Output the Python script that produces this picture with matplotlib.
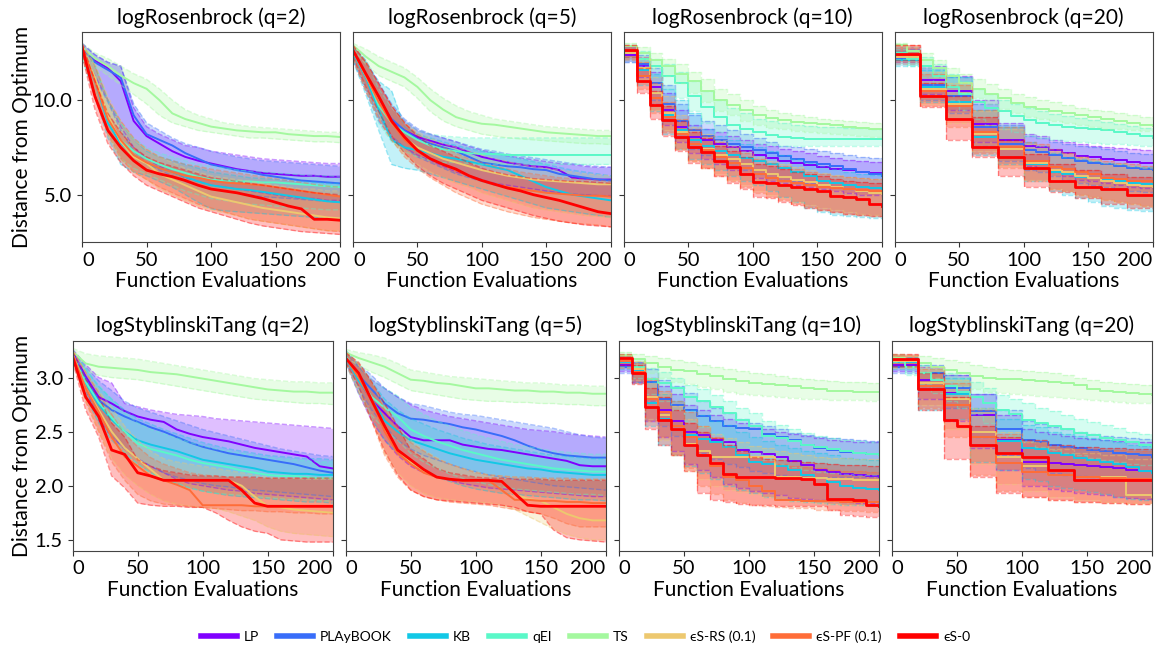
import numpy as np
import matplotlib.pyplot as plt
from matplotlib.gridspec import GridSpec
from matplotlib.lines import Line2D

plt.rcParams['font.family'] = ['Lato', 'DejaVu Sans']

evals = list(range(0, 201, 10))
methods = ['LP', 'PLAyBOOK', 'KB', 'qEI', 'TS', 'ϵS-RS (0.1)', 'ϵS-PF (0.1)', 'ϵS-0']

ros_q2 = {
    'LP': [[12.8, 12.1, 11.7, 11.0, 8.9, 8.1, 7.7, 7.3, 7.0, 6.8, 6.65, 6.5, 6.35, 6.25, 6.15, 6.1, 6.05, 6.0, 6.0, 5.95, 5.95],
           [12.5, 11.3, 10.0, 8.6, 7.5, 6.9, 6.5, 6.2, 5.9, 5.7, 5.5, 5.4, 5.3, 5.2, 5.1, 5.0, 4.9, 4.8, 4.8, 4.7, 4.7],
           [13.0, 12.4, 12.0, 11.8, 9.6, 8.6, 8.2, 7.9, 7.6, 7.5, 7.3, 7.2, 7.1, 7.0, 6.9, 6.85, 6.8, 6.75, 6.7, 6.65, 6.65]],
    'PLAyBOOK': [[12.8, 12.0, 11.6, 11.2, 9.2, 8.2, 7.9, 7.6, 7.2, 6.9, 6.6, 6.45, 6.3, 6.2, 6.05, 5.95, 5.85, 5.75, 5.7, 5.65, 5.6],
                 [12.4, 11.2, 9.9, 8.4, 7.3, 6.7, 6.3, 6.0, 5.7, 5.5, 5.3, 5.2, 5.1, 5.0, 4.9, 4.85, 4.8, 4.75, 4.7, 4.65, 4.6],
                 [13.0, 12.4, 12.0, 11.8, 9.8, 8.8, 8.4, 8.0, 7.7, 7.5, 7.3, 7.15, 7.0, 6.9, 6.8, 6.75, 6.7, 6.65, 6.6, 6.55, 6.5]],
    'KB': [[12.6, 11.0, 8.8, 7.7, 7.1, 6.65, 6.4, 6.2, 5.95, 5.7, 5.5, 5.4, 5.3, 5.25, 5.15, 5.05, 4.95, 4.85, 4.75, 4.65, 4.6],
           [12.2, 10.2, 8.0, 6.6, 6.2, 6.0, 5.7, 5.4, 5.0, 4.6, 4.25, 4.15, 4.1, 4.05, 4.0, 3.95, 3.9, 3.85, 3.8, 3.8, 3.75],
           [12.9, 11.8, 10.0, 8.8, 7.9, 7.3, 7.0, 6.8, 6.6, 6.4, 6.2, 6.1, 6.0, 5.9, 5.85, 5.8, 5.75, 5.7, 5.65, 5.6, 5.6]],
    'qEI': [[12.7, 11.2, 9.0, 7.9, 7.3, 6.9, 6.6, 6.35, 6.15, 5.95, 5.8, 5.75, 5.7, 5.7, 5.65, 5.65, 5.6, 5.55, 5.5, 5.45, 5.4],
            [12.3, 10.4, 8.2, 6.9, 6.4, 6.1, 5.8, 5.5, 5.2, 5.0, 4.8, 4.7, 4.6, 4.5, 4.45, 4.4, 4.35, 4.3, 4.25, 4.2, 4.2],
            [12.9, 11.9, 10.0, 8.8, 8.0, 7.5, 7.2, 7.0, 6.8, 6.6, 6.5, 6.4, 6.3, 6.25, 6.2, 6.15, 6.1, 6.05, 6.0, 6.0, 5.95]],
    'TS': [[12.8, 12.2, 11.8, 11.3, 10.9, 10.6, 10.0, 9.3, 9.0, 8.8, 8.6, 8.5, 8.4, 8.35, 8.3, 8.3, 8.2, 8.15, 8.1, 8.1, 8.05],
           [12.6, 11.8, 11.3, 10.8, 10.3, 9.8, 9.2, 8.8, 8.6, 8.4, 8.3, 8.2, 8.1, 8.0, 8.0, 7.95, 7.9, 7.85, 7.8, 7.8, 7.75],
           [13.0, 12.5, 12.2, 11.8, 11.4, 11.1, 10.6, 10.0, 9.5, 9.2, 9.0, 8.8, 8.7, 8.6, 8.55, 8.5, 8.45, 8.4, 8.35, 8.3, 8.3]],
    'ϵS-RS (0.1)': [[12.7, 11.2, 9.2, 7.8, 7.0, 6.65, 6.1, 5.8, 5.5, 5.2, 4.9, 4.75, 4.6, 4.45, 4.3, 4.2, 4.1, 4.0, 3.9, 3.8, 3.75],
                    [12.3, 10.4, 8.3, 6.9, 6.2, 5.8, 5.3, 5.0, 4.7, 4.4, 4.2, 4.05, 3.9, 3.75, 3.6, 3.5, 3.4, 3.3, 3.2, 3.1, 3.1],
                    [12.9, 11.9, 10.2, 8.9, 7.9, 7.4, 7.0, 6.7, 6.4, 6.2, 6.0, 5.9, 5.8, 5.7, 5.6, 5.5, 5.4, 5.3, 5.3, 5.2, 5.2]],
    'ϵS-PF (0.1)': [[12.8, 11.0, 9.0, 7.9, 7.1, 6.7, 6.4, 6.2, 6.0, 5.9, 5.75, 5.65, 5.6, 5.55, 5.5, 5.4, 5.3, 5.2, 5.1, 5.0, 4.9],
                    [12.4, 10.1, 8.2, 6.9, 6.2, 5.8, 5.4, 5.1, 4.8, 4.5, 4.3, 4.1, 3.9, 3.7, 3.6, 3.5, 3.4, 3.3, 3.2, 3.1, 3.05],
                    [13.0, 11.8, 10.0, 8.9, 8.0, 7.4, 7.0, 6.8, 6.6, 6.5, 6.35, 6.25, 6.15, 6.05, 5.95, 5.85, 5.75, 5.65, 5.55, 5.45, 5.4]],
    'ϵS-0': [[12.8, 10.2, 8.4, 7.5, 6.8, 6.3, 6.1, 5.95, 5.75, 5.5, 5.3, 5.2, 5.1, 4.95, 4.8, 4.6, 4.4, 4.25, 3.7, 3.7, 3.65],
             [12.4, 9.5, 7.7, 6.7, 6.0, 5.5, 5.2, 4.9, 4.6, 4.3, 4.1, 3.9, 3.7, 3.5, 3.35, 3.25, 3.15, 3.05, 3.0, 2.95, 2.9],
             [13.0, 11.0, 9.3, 8.3, 7.5, 7.0, 6.7, 6.5, 6.3, 6.1, 5.9, 5.8, 5.7, 5.6, 5.5, 5.4, 5.3, 5.2, 5.1, 5.05, 5.0]],
}

ros_q5 = {
    'LP': [[12.6, 11.3, 9.8, 8.9, 8.4, 8.05, 7.85, 7.65, 7.5, 7.25, 7.0, 6.85, 6.7, 6.6, 6.5, 6.45, 6.3, 5.9, 5.85, 5.8, 5.8],
           [12.2, 10.5, 8.9, 8.0, 7.5, 7.1, 6.8, 6.5, 6.2, 6.0, 5.8, 5.6, 5.5, 5.4, 5.3, 5.2, 5.1, 5.0, 5.0, 4.95, 4.95],
           [12.9, 12.0, 10.8, 9.6, 8.9, 8.4, 8.2, 8.0, 7.8, 7.55, 7.35, 7.2, 7.05, 6.95, 6.85, 6.75, 6.65, 6.6, 6.5, 6.45, 6.45]],
    'PLAyBOOK': [[12.5, 11.4, 10.0, 9.0, 8.4, 7.95, 7.7, 7.5, 7.3, 7.0, 6.7, 6.6, 6.5, 6.45, 6.35, 6.3, 6.1, 6.0, 5.9, 5.8, 5.75],
                 [12.1, 10.6, 9.1, 8.1, 7.5, 7.0, 6.7, 6.4, 6.1, 5.9, 5.7, 5.5, 5.4, 5.3, 5.2, 5.15, 5.1, 5.05, 5.0, 4.95, 4.9],
                 [12.9, 12.1, 10.9, 9.8, 9.0, 8.5, 8.2, 8.0, 7.8, 7.6, 7.4, 7.3, 7.15, 7.05, 6.95, 6.85, 6.75, 6.65, 6.55, 6.5, 6.45]],
    'KB': [[12.5, 11.2, 9.5, 7.9, 7.5, 7.35, 7.2, 7.0, 6.9, 6.75, 6.6, 6.45, 6.3, 6.0, 5.7, 5.4, 5.2, 5.0, 4.9, 4.8, 4.7],
           [12.1, 10.3, 8.4, 6.6, 6.4, 6.3, 6.1, 5.9, 5.7, 5.5, 5.3, 5.1, 4.9, 4.7, 4.5, 4.3, 4.2, 4.1, 4.0, 3.9, 3.8],
           [12.8, 12.0, 11.0, 10.5, 8.6, 8.2, 8.0, 7.8, 7.6, 7.45, 7.3, 7.2, 7.05, 6.9, 6.75, 6.6, 6.45, 6.3, 6.2, 6.1, 6.0]],
    'qEI': [[12.6, 11.4, 9.7, 8.8, 8.3, 7.9, 7.6, 7.4, 7.3, 7.2, 7.15, 7.15, 7.1, 7.1, 7.1, 7.1, 7.1, 7.1, 7.1, 7.1, 7.1],
            [12.2, 10.6, 8.8, 7.8, 7.3, 7.0, 6.8, 6.7, 6.7, 6.65, 6.6, 6.6, 6.6, 6.6, 6.6, 6.6, 6.6, 6.6, 6.6, 6.6, 6.6],
            [12.9, 12.1, 10.6, 9.6, 8.9, 8.4, 8.2, 8.1, 8.05, 8.0, 8.0, 8.0, 8.0, 8.0, 8.0, 8.0, 8.0, 8.0, 8.0, 8.0, 8.0]],
    'TS': [[12.9, 12.3, 11.8, 11.5, 11.2, 10.7, 10.0, 9.5, 9.1, 8.9, 8.75, 8.7, 8.6, 8.5, 8.4, 8.3, 8.25, 8.2, 8.15, 8.1, 8.1],
           [12.7, 11.9, 11.3, 11.0, 10.7, 10.1, 9.4, 8.9, 8.6, 8.4, 8.2, 8.1, 8.0, 7.95, 7.9, 7.85, 7.8, 7.75, 7.7, 7.7, 7.65],
           [13.0, 12.7, 12.3, 12.0, 11.7, 11.2, 10.6, 10.1, 9.7, 9.4, 9.2, 9.0, 8.9, 8.8, 8.7, 8.6, 8.55, 8.5, 8.45, 8.4, 8.4]],
    'ϵS-RS (0.1)': [[12.6, 11.3, 9.9, 8.8, 8.0, 7.5, 7.2, 6.9, 6.7, 6.5, 6.3, 6.15, 6.0, 5.9, 5.8, 5.75, 5.7, 5.65, 5.6, 5.55, 5.55],
                    [12.2, 10.5, 9.0, 7.9, 7.1, 6.6, 6.2, 5.9, 5.6, 5.4, 5.1, 4.9, 4.7, 4.5, 4.3, 4.2, 4.1, 4.0, 3.9, 3.85, 3.8],
                    [12.9, 12.0, 10.8, 9.6, 8.8, 8.3, 8.0, 7.7, 7.5, 7.3, 7.1, 6.9, 6.75, 6.6, 6.5, 6.4, 6.3, 6.2, 6.1, 6.05, 6.0]],
    'ϵS-PF (0.1)': [[12.6, 11.3, 9.9, 8.8, 7.9, 7.3, 6.9, 6.6, 6.3, 6.0, 5.75, 5.55, 5.4, 5.3, 5.2, 5.1, 5.05, 5.0, 4.95, 4.95, 4.9],
                    [12.2, 10.5, 9.0, 7.9, 7.0, 6.4, 5.9, 5.5, 5.1, 4.8, 4.5, 4.3, 4.1, 3.95, 3.8, 3.7, 3.6, 3.5, 3.45, 3.4, 3.3],
                    [12.9, 12.0, 10.8, 9.7, 8.8, 8.2, 7.8, 7.5, 7.2, 6.9, 6.7, 6.5, 6.35, 6.2, 6.1, 6.0, 5.9, 5.85, 5.8, 5.75, 5.7]],
    'ϵS-0': [[12.65, 11.4, 10.2, 8.9, 8.05, 7.35, 6.9, 6.6, 6.35, 6.0, 5.75, 5.55, 5.35, 5.2, 5.0, 4.85, 4.7, 4.5, 4.3, 4.1, 4.0],
             [12.3, 10.7, 9.4, 8.1, 7.2, 6.5, 6.0, 5.6, 5.3, 5.0, 4.7, 4.5, 4.3, 4.1, 3.9, 3.75, 3.6, 3.5, 3.4, 3.35, 3.3],
             [12.9, 12.0, 10.9, 9.7, 8.8, 8.1, 7.6, 7.3, 7.0, 6.7, 6.4, 6.2, 6.05, 5.95, 5.85, 5.8, 5.75, 5.7, 5.7, 5.65, 5.6]],
}

ros_q10 = {
    'LP': [[12.4, 11.8, 10.7, 9.5, 8.6, 8.05, 7.9, 7.7, 7.5, 7.3, 7.1, 6.95, 6.8, 6.7, 6.55, 6.45, 6.35, 6.3, 6.2, 6.15, 6.1],
           [12.0, 11.2, 9.8, 8.7, 7.8, 7.2, 6.9, 6.6, 6.3, 6.1, 5.9, 5.7, 5.6, 5.5, 5.4, 5.3, 5.2, 5.1, 5.0, 5.0, 4.9],
           [12.8, 12.3, 11.5, 10.4, 9.5, 8.7, 8.5, 8.3, 8.1, 7.9, 7.7, 7.55, 7.4, 7.3, 7.2, 7.05, 6.95, 6.85, 6.8, 6.75, 6.7]],
    'PLAyBOOK': [[12.5, 11.9, 10.9, 9.8, 8.9, 8.4, 8.1, 7.9, 7.7, 7.5, 7.35, 7.2, 7.05, 6.9, 6.75, 6.6, 6.5, 6.35, 6.2, 6.1, 6.0],
                 [12.1, 11.3, 10.0, 8.9, 8.0, 7.4, 7.1, 6.8, 6.5, 6.3, 6.1, 5.9, 5.8, 5.7, 5.6, 5.5, 5.4, 5.3, 5.2, 5.1, 5.0],
                 [12.8, 12.4, 11.7, 10.8, 9.8, 9.2, 8.9, 8.7, 8.4, 8.2, 8.0, 7.8, 7.6, 7.5, 7.4, 7.3, 7.2, 7.1, 7.0, 6.95, 6.9]],
    'KB': [[12.5, 11.6, 10.4, 9.2, 8.4, 7.9, 7.6, 7.3, 7.1, 6.95, 6.8, 6.6, 6.4, 6.2, 6.0, 5.75, 5.6, 5.5, 5.4, 5.35, 5.3],
           [12.0, 10.8, 9.4, 8.2, 7.4, 6.9, 6.6, 6.3, 6.0, 5.7, 5.5, 5.2, 4.9, 4.6, 4.3, 4.1, 3.95, 3.85, 3.8, 3.75, 3.7],
           [12.9, 12.2, 11.4, 10.6, 10.0, 9.3, 8.5, 8.1, 7.9, 7.7, 7.5, 7.3, 7.1, 6.9, 6.7, 6.5, 6.35, 6.2, 6.1, 6.05, 6.0]],
    'qEI': [[12.6, 12.2, 11.8, 11.3, 10.9, 10.2, 9.65, 9.1, 8.7, 8.5, 8.3, 8.15, 8.05, 8.0, 7.95, 7.95, 7.95, 7.95, 7.95, 7.95, 7.95],
            [12.3, 11.8, 11.2, 10.6, 10.1, 9.4, 8.8, 8.3, 8.0, 7.8, 7.7, 7.65, 7.6, 7.6, 7.6, 7.6, 7.55, 7.55, 7.55, 7.55, 7.55],
            [12.9, 12.6, 12.2, 11.9, 11.5, 11.0, 10.5, 10.0, 9.6, 9.3, 9.0, 8.9, 8.8, 8.7, 8.65, 8.6, 8.6, 8.55, 8.55, 8.5, 8.5]],
    'TS': [[12.85, 12.5, 12.1, 11.8, 11.4, 11.0, 10.5, 10.0, 9.75, 9.5, 9.2, 9.05, 8.95, 8.85, 8.8, 8.75, 8.7, 8.6, 8.55, 8.5, 8.45],
           [12.6, 12.2, 11.7, 11.3, 10.9, 10.4, 9.9, 9.4, 9.2, 8.9, 8.7, 8.55, 8.45, 8.35, 8.3, 8.25, 8.2, 8.15, 8.1, 8.05, 8.0],
           [13.0, 12.8, 12.5, 12.2, 11.9, 11.5, 11.1, 10.6, 10.3, 10.0, 9.7, 9.5, 9.3, 9.2, 9.1, 9.0, 8.95, 8.9, 8.85, 8.8, 8.75]],
    'ϵS-RS (0.1)': [[12.5, 11.7, 10.4, 9.3, 8.3, 7.7, 7.4, 7.1, 6.9, 6.6, 6.3, 6.1, 5.95, 5.8, 5.65, 5.5, 5.4, 5.3, 5.2, 5.1, 5.05],
                    [12.1, 11.0, 9.5, 8.4, 7.4, 6.8, 6.4, 6.1, 5.8, 5.5, 5.2, 5.0, 4.8, 4.6, 4.45, 4.3, 4.2, 4.1, 4.0, 3.95, 3.9],
                    [12.8, 12.3, 11.2, 10.2, 9.2, 8.6, 8.2, 7.9, 7.6, 7.3, 7.0, 6.8, 6.6, 6.45, 6.3, 6.15, 6.05, 5.95, 5.9, 5.85, 5.8]],
    'ϵS-PF (0.1)': [[12.6, 11.3, 10.1, 9.1, 8.2, 7.7, 7.35, 7.0, 6.7, 6.4, 6.1, 5.9, 5.75, 5.6, 5.5, 5.4, 5.35, 5.3, 5.25, 5.2, 5.2],
                    [12.2, 10.6, 9.3, 8.3, 7.4, 6.8, 6.4, 6.0, 5.7, 5.4, 5.1, 4.9, 4.7, 4.5, 4.35, 4.2, 4.1, 4.0, 3.95, 3.9, 3.85],
                    [12.9, 12.0, 10.9, 9.9, 9.0, 8.5, 8.1, 7.8, 7.5, 7.2, 6.9, 6.7, 6.5, 6.35, 6.2, 6.1, 6.0, 5.95, 5.9, 5.85, 5.8]],
    'ϵS-0': [[12.65, 11.0, 9.75, 8.95, 8.05, 7.5, 7.25, 6.8, 6.45, 6.1, 5.65, 5.6, 5.5, 5.4, 5.3, 5.2, 4.95, 4.9, 4.75, 4.5, 4.4],
             [12.3, 10.4, 9.0, 8.1, 7.3, 6.7, 6.4, 6.0, 5.6, 5.3, 4.9, 4.8, 4.6, 4.45, 4.3, 4.2, 4.1, 4.0, 3.95, 3.9, 3.9],
             [12.9, 11.7, 10.5, 9.7, 8.9, 8.3, 8.0, 7.6, 7.3, 7.0, 6.6, 6.5, 6.35, 6.2, 6.1, 6.0, 5.85, 5.75, 5.65, 5.6, 5.5]],
}

ros_q20 = {
    'LP': [[12.3, 12.3, 11.05, 11.05, 10.5, 10.5, 8.75, 8.75, 7.9, 7.9, 7.6, 7.5, 7.35, 7.2, 7.05, 7.0, 6.9, 6.85, 6.75, 6.7, 6.7],
           [12.0, 12.0, 10.3, 10.3, 9.5, 9.5, 7.8, 7.8, 7.0, 7.0, 6.5, 6.4, 6.2, 6.0, 5.8, 5.7, 5.6, 5.5, 5.4, 5.35, 5.3],
           [12.8, 12.8, 11.8, 11.8, 11.3, 11.3, 10.0, 10.0, 8.8, 8.8, 8.2, 8.1, 7.9, 7.8, 7.7, 7.6, 7.5, 7.45, 7.4, 7.35, 7.35]],
    'PLAyBOOK': [[12.2, 12.2, 10.8, 10.8, 10.2, 10.2, 8.6, 8.6, 7.7, 7.7, 7.35, 7.25, 7.1, 6.95, 6.8, 6.7, 6.6, 6.5, 6.4, 6.35, 6.3],
                 [11.9, 11.9, 10.0, 10.0, 9.3, 9.3, 7.6, 7.6, 6.8, 6.8, 6.3, 6.2, 6.0, 5.8, 5.6, 5.5, 5.4, 5.3, 5.2, 5.15, 5.1],
                 [12.7, 12.7, 11.7, 11.7, 11.2, 11.2, 9.8, 9.8, 8.7, 8.7, 8.1, 8.0, 7.8, 7.7, 7.6, 7.5, 7.4, 7.3, 7.2, 7.15, 7.1]],
    'KB': [[12.1, 12.1, 10.7, 10.7, 9.9, 9.9, 8.05, 8.05, 7.5, 7.5, 6.6, 6.6, 6.2, 6.1, 5.95, 5.9, 5.8, 5.7, 5.6, 5.55, 5.55],
           [11.8, 11.8, 9.9, 9.9, 9.0, 9.0, 7.1, 7.1, 6.6, 6.6, 5.7, 5.7, 5.2, 5.0, 4.8, 4.6, 4.4, 4.3, 4.2, 4.15, 4.1],
           [12.6, 12.6, 11.6, 11.6, 11.2, 11.2, 9.5, 9.5, 8.6, 8.6, 7.8, 7.6, 7.2, 7.0, 6.9, 6.8, 6.7, 6.6, 6.5, 6.45, 6.4]],
    'qEI': [[12.5, 12.2, 11.8, 11.3, 10.7, 10.3, 9.9, 9.6, 9.4, 9.15, 8.95, 8.8, 8.7, 8.6, 8.55, 8.5, 8.4, 8.3, 8.2, 8.1, 8.0],
            [12.2, 11.8, 11.2, 10.6, 10.0, 9.5, 9.0, 8.7, 8.5, 8.3, 8.1, 8.0, 7.9, 7.85, 7.8, 7.75, 7.7, 7.7, 7.65, 7.6, 7.6],
            [12.8, 12.6, 12.3, 11.9, 11.4, 11.0, 10.6, 10.3, 10.0, 9.8, 9.6, 9.4, 9.25, 9.15, 9.05, 8.95, 8.85, 8.75, 8.65, 8.55, 8.5]],
    'TS': [[12.9, 12.6, 12.1, 11.7, 11.25, 10.9, 10.6, 10.35, 10.1, 9.85, 9.65, 9.55, 9.45, 9.3, 9.2, 9.1, 9.0, 8.9, 8.8, 8.7, 8.65],
           [12.7, 12.3, 11.7, 11.2, 10.8, 10.4, 10.1, 9.8, 9.55, 9.3, 9.1, 9.0, 8.9, 8.8, 8.7, 8.6, 8.5, 8.45, 8.4, 8.35, 8.3],
           [13.0, 12.8, 12.5, 12.1, 11.7, 11.4, 11.1, 10.85, 10.6, 10.35, 10.15, 10.0, 9.9, 9.75, 9.6, 9.5, 9.4, 9.3, 9.2, 9.1, 9.0]],
    'ϵS-RS (0.1)': [[12.3, 12.3, 10.6, 10.6, 9.8, 9.8, 8.2, 8.2, 7.4, 7.4, 6.7, 6.7, 6.3, 6.2, 6.0, 5.9, 5.75, 5.6, 5.5, 5.45, 5.4],
                    [11.9, 11.9, 9.8, 9.8, 8.8, 8.8, 7.3, 7.3, 6.5, 6.5, 5.8, 5.8, 5.3, 5.2, 5.0, 4.9, 4.7, 4.6, 4.5, 4.4, 4.35],
                    [12.8, 12.8, 11.5, 11.5, 10.9, 10.9, 9.4, 9.4, 8.5, 8.5, 7.7, 7.6, 7.3, 7.2, 7.0, 6.85, 6.7, 6.6, 6.5, 6.4, 6.35]],
    'ϵS-PF (0.1)': [[12.4, 12.4, 10.5, 10.5, 9.7, 9.7, 8.3, 8.3, 7.5, 7.5, 6.8, 6.8, 6.45, 6.35, 6.2, 6.1, 5.9, 5.85, 5.75, 5.7, 5.65],
                    [12.0, 12.0, 9.7, 9.7, 8.6, 8.6, 7.2, 7.2, 6.4, 6.4, 5.7, 5.7, 5.3, 5.2, 5.0, 4.9, 4.7, 4.6, 4.5, 4.4, 4.3],
                    [12.9, 12.9, 11.4, 11.4, 10.8, 10.8, 9.5, 9.5, 8.6, 8.6, 7.8, 7.7, 7.4, 7.2, 7.0, 6.9, 6.8, 6.7, 6.6, 6.5, 6.45]],
    'ϵS-0': [[12.45, 12.45, 10.2, 10.2, 9.0, 9.0, 7.5, 7.5, 7.0, 7.0, 6.4, 6.4, 5.75, 5.75, 5.4, 5.4, 5.3, 5.3, 5.0, 5.0, 5.0],
             [12.1, 12.1, 9.65, 9.65, 7.9, 7.9, 7.0, 7.0, 6.0, 6.0, 5.4, 5.4, 5.15, 5.15, 4.85, 4.85, 4.5, 4.5, 4.3, 4.3, 4.2],
             [12.9, 12.9, 10.9, 10.9, 10.2, 10.2, 9.1, 9.1, 7.9, 7.9, 7.15, 7.15, 6.6, 6.6, 6.3, 6.3, 6.1, 6.1, 5.95, 5.95, 5.9]],
}

sty_q2 = {
    'LP': [[3.24, 3.01, 2.82, 2.76, 2.69, 2.64, 2.61, 2.59, 2.52, 2.48, 2.45, 2.43, 2.41, 2.38, 2.35, 2.33, 2.31, 2.29, 2.27, 2.18, 2.16],
           [3.2, 2.9, 2.62, 2.45, 2.35, 2.25, 2.18, 2.12, 2.06, 2.02, 2.0, 1.98, 1.96, 1.95, 1.93, 1.92, 1.91, 1.9, 1.89, 1.88, 1.87],
           [3.26, 3.12, 3.0, 2.95, 2.76, 2.73, 2.7, 2.68, 2.66, 2.65, 2.64, 2.62, 2.61, 2.6, 2.59, 2.58, 2.57, 2.56, 2.55, 2.54, 2.53]],
    'PLAyBOOK': [[3.22, 2.98, 2.79, 2.7, 2.64, 2.59, 2.54, 2.5, 2.45, 2.4, 2.36, 2.33, 2.3, 2.28, 2.26, 2.24, 2.22, 2.2, 2.17, 2.14, 2.12],
                 [3.18, 2.88, 2.6, 2.45, 2.34, 2.25, 2.18, 2.12, 2.08, 2.05, 2.02, 2.0, 1.99, 1.97, 1.96, 1.95, 1.94, 1.93, 1.92, 1.91, 1.9],
                 [3.25, 3.1, 2.97, 2.88, 2.78, 2.72, 2.68, 2.64, 2.6, 2.56, 2.52, 2.49, 2.46, 2.43, 2.4, 2.37, 2.34, 2.32, 2.3, 2.28, 2.27]],
    'KB': [[3.2, 2.95, 2.75, 2.61, 2.5, 2.42, 2.38, 2.35, 2.32, 2.28, 2.24, 2.22, 2.2, 2.18, 2.16, 2.13, 2.12, 2.11, 2.11, 2.1, 2.1],
           [3.15, 2.82, 2.58, 2.42, 2.3, 2.2, 2.12, 2.06, 2.02, 1.98, 1.95, 1.93, 1.91, 1.9, 1.89, 1.88, 1.87, 1.86, 1.85, 1.85, 1.84],
           [3.25, 3.08, 2.92, 2.8, 2.7, 2.62, 2.57, 2.52, 2.48, 2.44, 2.4, 2.37, 2.34, 2.32, 2.3, 2.28, 2.27, 2.26, 2.25, 2.25, 2.24]],
    'qEI': [[3.2, 2.96, 2.77, 2.63, 2.5, 2.39, 2.34, 2.31, 2.28, 2.24, 2.21, 2.19, 2.17, 2.14, 2.12, 2.1, 2.09, 2.09, 2.08, 2.07, 2.07],
            [3.15, 2.84, 2.6, 2.44, 2.31, 2.2, 2.12, 2.06, 2.02, 1.98, 1.95, 1.93, 1.92, 1.91, 1.9, 1.89, 1.88, 1.87, 1.87, 1.86, 1.86],
            [3.25, 3.08, 2.93, 2.8, 2.68, 2.58, 2.52, 2.48, 2.44, 2.4, 2.37, 2.34, 2.32, 2.3, 2.28, 2.26, 2.25, 2.24, 2.23, 2.22, 2.22]],
    'TS': [[3.24, 3.13, 3.1, 3.09, 3.08, 3.07, 3.05, 3.04, 3.03, 3.01, 2.99, 2.97, 2.95, 2.93, 2.91, 2.89, 2.88, 2.87, 2.87, 2.86, 2.86],
           [3.2, 3.06, 3.02, 3.0, 2.99, 2.98, 2.96, 2.94, 2.92, 2.9, 2.88, 2.86, 2.84, 2.82, 2.8, 2.79, 2.78, 2.77, 2.76, 2.76, 2.75],
           [3.27, 3.22, 3.2, 3.19, 3.18, 3.17, 3.15, 3.13, 3.11, 3.09, 3.07, 3.05, 3.03, 3.01, 2.99, 2.98, 2.97, 2.96, 2.96, 2.95, 2.95]],
    'ϵS-RS (0.1)': [[3.22, 2.9, 2.7, 2.5, 2.35, 2.25, 2.15, 2.05, 2.05, 2.05, 2.05, 2.05, 2.05, 2.0, 1.9, 1.81, 1.8, 1.78, 1.77, 1.76, 1.75],
                    [3.18, 2.78, 2.5, 2.25, 2.1, 2.0, 1.92, 1.86, 1.83, 1.81, 1.8, 1.79, 1.76, 1.72, 1.68, 1.62, 1.58, 1.56, 1.55, 1.54, 1.53],
                    [3.25, 3.05, 2.88, 2.72, 2.55, 2.42, 2.32, 2.25, 2.22, 2.2, 2.18, 2.16, 2.14, 2.12, 2.1, 2.08, 2.07, 2.07, 2.06, 2.06, 2.06]],
    'ϵS-PF (0.1)': [[3.21, 2.9, 2.68, 2.45, 2.27, 2.18, 2.09, 2.05, 2.01, 1.96, 1.82, 1.82, 1.82, 1.82, 1.81, 1.81, 1.81, 1.81, 1.81, 1.81, 1.81],
                    [3.17, 2.78, 2.5, 2.22, 2.05, 1.92, 1.86, 1.83, 1.82, 1.81, 1.8, 1.79, 1.78, 1.77, 1.77, 1.76, 1.76, 1.75, 1.75, 1.74, 1.74],
                    [3.25, 3.05, 2.86, 2.66, 2.48, 2.36, 2.26, 2.2, 2.16, 2.12, 2.1, 2.09, 2.08, 2.08, 2.07, 2.07, 2.07, 2.07, 2.07, 2.07, 2.07]],
    'ϵS-0': [[3.19, 2.82, 2.64, 2.33, 2.29, 2.12, 2.09, 2.05, 2.05, 2.05, 2.05, 2.05, 2.05, 1.96, 1.84, 1.81, 1.81, 1.81, 1.81, 1.81, 1.81],
             [3.15, 2.7, 2.45, 2.09, 1.98, 1.84, 1.82, 1.81, 1.81, 1.8, 1.8, 1.75, 1.68, 1.62, 1.58, 1.56, 1.5, 1.49, 1.48, 1.48, 1.48],
             [3.24, 2.98, 2.82, 2.58, 2.45, 2.24, 2.18, 2.14, 2.12, 2.1, 2.09, 2.09, 2.08, 2.08, 2.08, 2.07, 2.07, 2.07, 2.07, 2.07, 2.07]],
}

sty_q5 = {
    'LP': [[3.19, 2.98, 2.79, 2.67, 2.55, 2.45, 2.42, 2.42, 2.42, 2.38, 2.36, 2.34, 2.33, 2.31, 2.29, 2.27, 2.25, 2.23, 2.19, 2.18, 2.18],
           [3.15, 2.85, 2.6, 2.42, 2.28, 2.18, 2.12, 2.08, 2.05, 2.02, 2.0, 1.98, 1.97, 1.96, 1.95, 1.94, 1.93, 1.92, 1.91, 1.9, 1.9],
           [3.24, 3.1, 2.98, 2.9, 2.82, 2.75, 2.7, 2.67, 2.64, 2.62, 2.6, 2.58, 2.56, 2.54, 2.52, 2.51, 2.5, 2.48, 2.47, 2.46, 2.45]],
    'PLAyBOOK': [[3.2, 3.02, 2.89, 2.76, 2.67, 2.62, 2.61, 2.59, 2.57, 2.54, 2.52, 2.49, 2.46, 2.42, 2.37, 2.33, 2.3, 2.28, 2.27, 2.26, 2.26],
                 [3.15, 2.9, 2.7, 2.55, 2.42, 2.34, 2.28, 2.24, 2.2, 2.16, 2.13, 2.1, 2.08, 2.06, 2.04, 2.02, 2.0, 1.99, 1.98, 1.97, 1.96],
                 [3.25, 3.12, 3.02, 2.9, 2.82, 2.76, 2.74, 2.71, 2.68, 2.66, 2.65, 2.63, 2.61, 2.59, 2.57, 2.55, 2.53, 2.5, 2.47, 2.45, 2.44]],
    'KB': [[3.18, 2.97, 2.8, 2.6, 2.5, 2.42, 2.38, 2.34, 2.3, 2.27, 2.24, 2.22, 2.2, 2.18, 2.16, 2.15, 2.13, 2.12, 2.11, 2.1, 2.1],
           [3.13, 2.85, 2.62, 2.42, 2.3, 2.2, 2.14, 2.08, 2.04, 2.0, 1.97, 1.95, 1.93, 1.92, 1.91, 1.9, 1.89, 1.88, 1.87, 1.87, 1.86],
           [3.24, 3.1, 2.96, 2.8, 2.7, 2.62, 2.57, 2.52, 2.48, 2.44, 2.41, 2.38, 2.36, 2.34, 2.32, 2.3, 2.28, 2.27, 2.26, 2.25, 2.25]],
    'qEI': [[3.2, 3.0, 2.82, 2.72, 2.64, 2.52, 2.46, 2.41, 2.37, 2.33, 2.3, 2.27, 2.24, 2.22, 2.2, 2.18, 2.16, 2.15, 2.14, 2.13, 2.13],
            [3.15, 2.88, 2.65, 2.52, 2.42, 2.3, 2.22, 2.16, 2.11, 2.07, 2.04, 2.01, 1.99, 1.97, 1.96, 1.95, 1.94, 1.93, 1.92, 1.92, 1.91],
            [3.25, 3.12, 2.98, 2.9, 2.83, 2.72, 2.66, 2.6, 2.55, 2.51, 2.47, 2.44, 2.41, 2.38, 2.36, 2.34, 2.32, 2.31, 2.3, 2.29, 2.29]],
    'TS': [[3.23, 3.18, 3.14, 3.1, 3.04, 2.98, 2.97, 2.95, 2.94, 2.92, 2.9, 2.9, 2.89, 2.88, 2.88, 2.87, 2.87, 2.86, 2.86, 2.85, 2.85],
           [3.19, 3.11, 3.05, 3.0, 2.94, 2.88, 2.86, 2.84, 2.82, 2.8, 2.79, 2.78, 2.78, 2.77, 2.77, 2.76, 2.76, 2.75, 2.75, 2.74, 2.74],
           [3.26, 3.23, 3.21, 3.18, 3.13, 3.07, 3.05, 3.03, 3.01, 3.0, 2.99, 2.98, 2.97, 2.96, 2.95, 2.95, 2.94, 2.93, 2.93, 2.92, 2.92]],
    'ϵS-RS (0.1)': [[3.19, 3.02, 2.8, 2.52, 2.33, 2.22, 2.14, 2.08, 2.06, 2.05, 2.05, 2.05, 2.04, 1.92, 1.88, 1.86, 1.8, 1.74, 1.7, 1.68, 1.68],
                    [3.14, 2.88, 2.62, 2.3, 2.12, 2.0, 1.93, 1.89, 1.87, 1.86, 1.85, 1.84, 1.82, 1.78, 1.72, 1.66, 1.6, 1.55, 1.52, 1.5, 1.5],
                    [3.24, 3.12, 2.96, 2.72, 2.55, 2.42, 2.33, 2.26, 2.2, 2.16, 2.13, 2.1, 2.09, 2.08, 2.07, 2.07, 2.06, 2.06, 2.06, 2.06, 2.06]],
    'ϵS-PF (0.1)': [[3.18, 3.0, 2.78, 2.5, 2.3, 2.2, 2.12, 2.08, 2.06, 2.05, 2.05, 2.05, 1.96, 1.87, 1.87, 1.86, 1.86, 1.85, 1.85, 1.84, 1.84],
                    [3.13, 2.86, 2.6, 2.28, 2.08, 1.96, 1.9, 1.87, 1.85, 1.84, 1.83, 1.82, 1.8, 1.78, 1.76, 1.74, 1.7, 1.65, 1.62, 1.62, 1.62],
                    [3.23, 3.12, 2.95, 2.7, 2.52, 2.4, 2.32, 2.25, 2.2, 2.16, 2.12, 2.1, 2.09, 2.08, 2.08, 2.07, 2.07, 2.07, 2.06, 2.06, 2.06]],
    'ϵS-0': [[3.18, 3.04, 2.79, 2.55, 2.33, 2.24, 2.15, 2.08, 2.06, 2.05, 2.05, 2.05, 2.04, 1.93, 1.82, 1.81, 1.81, 1.81, 1.81, 1.81, 1.81],
             [3.14, 2.92, 2.6, 2.32, 2.1, 1.96, 1.9, 1.87, 1.86, 1.85, 1.84, 1.83, 1.82, 1.8, 1.76, 1.74, 1.59, 1.52, 1.5, 1.49, 1.48],
             [3.23, 3.14, 2.96, 2.76, 2.55, 2.33, 2.25, 2.16, 2.12, 2.1, 2.08, 2.07, 2.07, 2.06, 2.06, 2.06, 2.05, 2.05, 2.05, 2.05, 2.05]],
}

sty_q10 = {
    'LP': [[3.12, 3.06, 2.81, 2.7, 2.6, 2.5, 2.47, 2.42, 2.4, 2.33, 2.31, 2.29, 2.27, 2.23, 2.19, 2.15, 2.13, 2.11, 2.1, 2.09, 2.08],
           [3.06, 2.96, 2.6, 2.45, 2.32, 2.2, 2.15, 2.08, 2.02, 1.98, 1.95, 1.93, 1.91, 1.89, 1.88, 1.87, 1.86, 1.85, 1.84, 1.84, 1.83],
           [3.18, 3.14, 3.0, 2.92, 2.85, 2.75, 2.7, 2.65, 2.62, 2.58, 2.55, 2.52, 2.5, 2.48, 2.46, 2.44, 2.42, 2.41, 2.4, 2.4, 2.4]],
    'PLAyBOOK': [[3.1, 3.05, 2.96, 2.8, 2.75, 2.7, 2.64, 2.6, 2.55, 2.53, 2.52, 2.48, 2.45, 2.42, 2.38, 2.35, 2.33, 2.31, 2.3, 2.29, 2.29],
                 [3.04, 2.95, 2.78, 2.55, 2.46, 2.38, 2.3, 2.25, 2.2, 2.17, 2.14, 2.12, 2.1, 2.09, 2.08, 2.08, 2.08, 2.08, 2.08, 2.08, 2.08],
                 [3.16, 3.13, 3.08, 2.98, 2.92, 2.86, 2.78, 2.72, 2.67, 2.62, 2.58, 2.55, 2.52, 2.49, 2.47, 2.45, 2.44, 2.43, 2.42, 2.41, 2.41]],
    'KB': [[3.14, 3.06, 2.76, 2.62, 2.55, 2.47, 2.43, 2.4, 2.36, 2.28, 2.22, 2.2, 2.18, 2.15, 2.1, 2.07, 2.03, 2.0, 1.98, 1.97, 1.96],
           [3.08, 2.96, 2.55, 2.38, 2.28, 2.18, 2.12, 2.06, 2.0, 1.96, 1.93, 1.9, 1.88, 1.86, 1.85, 1.84, 1.83, 1.82, 1.82, 1.81, 1.81],
           [3.2, 3.14, 2.96, 2.85, 2.78, 2.7, 2.65, 2.6, 2.56, 2.5, 2.45, 2.41, 2.38, 2.35, 2.32, 2.3, 2.28, 2.26, 2.25, 2.24, 2.24]],
    'qEI': [[3.16, 3.1, 2.99, 2.95, 2.9, 2.82, 2.78, 2.73, 2.67, 2.61, 2.55, 2.46, 2.44, 2.41, 2.38, 2.36, 2.34, 2.32, 2.3, 2.29, 2.28],
            [3.1, 3.0, 2.85, 2.78, 2.7, 2.6, 2.54, 2.48, 2.42, 2.36, 2.3, 2.24, 2.2, 2.17, 2.15, 2.13, 2.12, 2.11, 2.1, 2.1, 2.09],
            [3.21, 3.17, 3.09, 3.05, 3.0, 2.93, 2.89, 2.84, 2.78, 2.72, 2.67, 2.6, 2.56, 2.52, 2.49, 2.46, 2.44, 2.42, 2.41, 2.4, 2.39]],
    'TS': [[3.21, 3.17, 3.13, 3.1, 3.07, 3.06, 3.03, 3.01, 2.99, 2.97, 2.95, 2.94, 2.93, 2.92, 2.9, 2.89, 2.88, 2.88, 2.87, 2.87, 2.87],
           [3.17, 3.1, 3.04, 3.0, 2.96, 2.94, 2.91, 2.89, 2.87, 2.85, 2.84, 2.83, 2.82, 2.81, 2.8, 2.8, 2.79, 2.79, 2.79, 2.78, 2.78],
           [3.24, 3.22, 3.2, 3.18, 3.16, 3.14, 3.12, 3.1, 3.08, 3.06, 3.04, 3.03, 3.01, 3.0, 2.99, 2.98, 2.97, 2.96, 2.96, 2.95, 2.95]],
    'ϵS-RS (0.1)': [[3.16, 3.08, 2.82, 2.65, 2.52, 2.39, 2.32, 2.27, 2.27, 2.27, 2.27, 2.27, 2.08, 2.08, 2.07, 2.07, 2.06, 2.06, 2.05, 2.05, 2.05],
                    [3.1, 2.98, 2.62, 2.42, 2.28, 2.14, 2.06, 2.0, 1.96, 1.94, 1.92, 1.9, 1.88, 1.86, 1.85, 1.84, 1.83, 1.82, 1.82, 1.81, 1.81],
                    [3.21, 3.15, 3.0, 2.86, 2.74, 2.62, 2.55, 2.48, 2.44, 2.4, 2.37, 2.35, 2.32, 2.3, 2.28, 2.27, 2.26, 2.26, 2.25, 2.25, 2.25]],
    'ϵS-PF (0.1)': [[3.15, 3.05, 2.8, 2.68, 2.55, 2.45, 2.28, 2.18, 2.08, 2.05, 2.0, 1.95, 1.87, 1.87, 1.86, 1.86, 1.86, 1.85, 1.85, 1.85, 1.85],
                    [3.09, 2.95, 2.6, 2.45, 2.28, 2.16, 2.0, 1.92, 1.87, 1.84, 1.82, 1.81, 1.8, 1.79, 1.79, 1.78, 1.78, 1.77, 1.77, 1.76, 1.76],
                    [3.2, 3.13, 2.98, 2.88, 2.78, 2.68, 2.55, 2.45, 2.36, 2.3, 2.26, 2.23, 2.2, 2.18, 2.17, 2.16, 2.15, 2.14, 2.14, 2.13, 2.13]],
    'ϵS-0': [[3.18, 3.04, 2.73, 2.61, 2.52, 2.38, 2.28, 2.21, 2.11, 2.08, 2.08, 2.08, 2.07, 2.07, 2.06, 2.02, 1.88, 1.88, 1.87, 1.82, 1.81],
             [3.12, 2.94, 2.52, 2.38, 2.28, 2.14, 1.93, 1.87, 1.85, 1.83, 1.82, 1.82, 1.81, 1.81, 1.81, 1.81, 1.78, 1.73, 1.72, 1.71, 1.71],
             [3.22, 3.12, 2.9, 2.82, 2.7, 2.58, 2.5, 2.44, 2.38, 2.32, 2.27, 2.25, 2.24, 2.23, 2.22, 2.21, 2.2, 2.19, 2.19, 2.18, 2.18]],
}

sty_q20 = {
    'LP': [[3.12, 3.12, 2.98, 2.98, 2.86, 2.86, 2.65, 2.65, 2.42, 2.42, 2.22, 2.22, 2.21, 2.2, 2.19, 2.18, 2.17, 2.16, 2.15, 2.14, 2.13],
           [3.06, 3.06, 2.8, 2.8, 2.6, 2.6, 2.35, 2.35, 2.15, 2.15, 2.0, 2.0, 1.97, 1.95, 1.93, 1.92, 1.91, 1.9, 1.89, 1.88, 1.88],
           [3.18, 3.18, 3.1, 3.1, 3.02, 3.02, 2.85, 2.85, 2.65, 2.65, 2.52, 2.5, 2.48, 2.46, 2.44, 2.43, 2.42, 2.41, 2.4, 2.4, 2.4]],
    'PLAyBOOK': [[3.1, 3.1, 3.04, 3.04, 2.9, 2.9, 2.69, 2.69, 2.52, 2.52, 2.42, 2.4, 2.38, 2.36, 2.35, 2.33, 2.32, 2.3, 2.29, 2.28, 2.27],
                 [3.04, 3.04, 2.9, 2.9, 2.72, 2.72, 2.45, 2.45, 2.28, 2.28, 2.16, 2.14, 2.12, 2.1, 2.09, 2.08, 2.07, 2.06, 2.05, 2.05, 2.04],
                 [3.16, 3.16, 3.12, 3.12, 3.02, 3.02, 2.85, 2.85, 2.7, 2.7, 2.6, 2.57, 2.54, 2.52, 2.5, 2.48, 2.46, 2.45, 2.44, 2.43, 2.42]],
    'KB': [[3.14, 3.14, 2.89, 2.89, 2.85, 2.85, 2.45, 2.45, 2.41, 2.41, 2.35, 2.34, 2.3, 2.28, 2.26, 2.24, 2.22, 2.2, 2.17, 2.14, 2.12],
           [3.08, 3.08, 2.7, 2.7, 2.62, 2.62, 2.22, 2.22, 2.15, 2.15, 2.06, 2.04, 2.0, 1.98, 1.96, 1.94, 1.92, 1.9, 1.88, 1.87, 1.86],
           [3.19, 3.19, 3.05, 3.05, 3.0, 3.0, 2.72, 2.72, 2.62, 2.62, 2.56, 2.54, 2.5, 2.48, 2.46, 2.44, 2.42, 2.4, 2.38, 2.37, 2.36]],
    'qEI': [[3.16, 3.1, 3.04, 2.98, 2.92, 2.87, 2.82, 2.76, 2.7, 2.66, 2.61, 2.58, 2.55, 2.52, 2.49, 2.47, 2.44, 2.42, 2.4, 2.38, 2.36],
            [3.1, 3.02, 2.94, 2.86, 2.78, 2.72, 2.66, 2.58, 2.5, 2.46, 2.4, 2.36, 2.33, 2.3, 2.28, 2.26, 2.24, 2.22, 2.2, 2.19, 2.18],
            [3.21, 3.16, 3.12, 3.08, 3.04, 3.0, 2.96, 2.9, 2.84, 2.8, 2.76, 2.72, 2.69, 2.65, 2.62, 2.59, 2.56, 2.53, 2.5, 2.48, 2.46]],
    'TS': [[3.18, 3.16, 3.13, 3.1, 3.07, 3.04, 3.01, 3.0, 2.99, 2.99, 2.98, 2.97, 2.96, 2.95, 2.93, 2.89, 2.88, 2.87, 2.86, 2.85, 2.84],
           [3.14, 3.1, 3.05, 3.0, 2.96, 2.92, 2.89, 2.87, 2.86, 2.85, 2.84, 2.83, 2.82, 2.81, 2.8, 2.79, 2.78, 2.77, 2.76, 2.76, 2.75],
           [3.22, 3.21, 3.2, 3.18, 3.16, 3.14, 3.12, 3.1, 3.08, 3.07, 3.06, 3.05, 3.04, 3.02, 3.0, 2.98, 2.96, 2.95, 2.94, 2.93, 2.93]],
    'ϵS-RS (0.1)': [[3.15, 3.15, 2.95, 2.95, 2.8, 2.8, 2.5, 2.5, 2.27, 2.27, 2.18, 2.18, 2.1, 2.1, 2.08, 2.08, 2.08, 2.08, 1.91, 1.91, 1.9],
                    [3.09, 3.09, 2.75, 2.75, 2.52, 2.52, 2.2, 2.2, 2.02, 2.02, 1.95, 1.95, 1.9, 1.9, 1.87, 1.87, 1.85, 1.85, 1.84, 1.84, 1.83],
                    [3.2, 3.2, 3.1, 3.1, 2.98, 2.98, 2.72, 2.72, 2.5, 2.5, 2.4, 2.4, 2.34, 2.34, 2.3, 2.3, 2.28, 2.28, 2.25, 2.25, 2.24]],
    'ϵS-PF (0.1)': [[3.16, 3.16, 2.92, 2.92, 2.75, 2.75, 2.45, 2.45, 2.21, 2.21, 2.13, 2.13, 2.1, 2.1, 2.08, 2.08, 2.07, 2.07, 2.06, 2.06, 2.05],
                    [3.1, 3.1, 2.72, 2.72, 2.45, 2.45, 2.1, 2.1, 1.95, 1.95, 1.9, 1.9, 1.87, 1.87, 1.85, 1.85, 1.84, 1.84, 1.83, 1.83, 1.82],
                    [3.21, 3.21, 3.08, 3.08, 2.95, 2.95, 2.7, 2.7, 2.48, 2.48, 2.4, 2.4, 2.36, 2.36, 2.34, 2.34, 2.33, 2.33, 2.32, 2.32, 2.32]],
    'ϵS-0': [[3.17, 3.17, 2.89, 2.89, 2.61, 2.55, 2.38, 2.38, 2.3, 2.3, 2.27, 2.27, 2.15, 2.15, 2.05, 2.05, 2.05, 2.05, 2.05, 2.05, 2.05],
             [3.11, 3.11, 2.7, 2.7, 2.25, 2.25, 2.08, 2.08, 1.93, 1.93, 1.9, 1.9, 1.87, 1.87, 1.85, 1.85, 1.84, 1.84, 1.83, 1.83, 1.83],
             [3.22, 3.22, 3.04, 3.04, 2.82, 2.82, 2.55, 2.55, 2.45, 2.45, 2.42, 2.42, 2.38, 2.38, 2.36, 2.36, 2.35, 2.35, 2.34, 2.34, 2.33]],
}

# (title, data, batch size q)
top_panels = [('logRosenbrock (q=2)', ros_q2, 2), ('logRosenbrock (q=5)', ros_q5, 5),
              ('logRosenbrock (q=10)', ros_q10, 10), ('logRosenbrock (q=20)', ros_q20, 20)]
bottom_panels = [('logStyblinskiTang (q=2)', sty_q2, 2), ('logStyblinskiTang (q=5)', sty_q5, 5),
                 ('logStyblinskiTang (q=10)', sty_q10, 10), ('logStyblinskiTang (q=20)', sty_q20, 20)]

# ---------------- plot -------------------------------------------------------
colors = plt.cm.rainbow(np.linspace(0, 1, len(methods)))
FS = 15

fig = plt.figure(figsize=(11.59, 6.54), dpi=100)
gs_top = GridSpec(1, 4, figure=fig, left=0.0708, right=0.9944, top=0.951, bottom=0.630, wspace=0.05)
gs_bot = GridSpec(1, 4, figure=fig, left=0.0627, right=0.9937, top=0.479, bottom=0.158, wspace=0.05)


def draw_panel(ax, title, data, q):
    # small batches were sampled coarser than their steps, so draw them as lines
    stepped = q >= 10
    ds = 'steps-post' if stepped else 'default'
    for i, m in enumerate(methods):
        med, lo, hi = data[m]
        c = colors[i]
        ax.fill_between(evals, lo, hi, step='post' if stepped else None, color=c, alpha=0.25, lw=0)
        ax.plot(evals, lo, drawstyle=ds, color=c, alpha=0.4, lw=1.0, ls='--')
        ax.plot(evals, hi, drawstyle=ds, color=c, alpha=0.4, lw=1.0, ls='--')
        ax.plot(evals, med, drawstyle=ds, color=c, lw=2.0 if m == 'ϵS-0' else 1.4)
    ax.set_title(title, fontsize=FS, pad=6)
    ax.set_xlim(0, 200)
    ax.set_xticks([0, 50, 100, 150, 200])
    xl = ax.get_xticklabels()
    xl[0].set_horizontalalignment('left')
    xl[-1].set_horizontalalignment('right')
    ax.set_xlabel('Function Evaluations', fontsize=FS, labelpad=2)
    ax.tick_params(labelsize=14.5, color='#333333')
    for s in ax.spines.values():
        s.set_color('#444444')


axes_top = []
for j, (title, data, q) in enumerate(top_panels):
    ax = fig.add_subplot(gs_top[0, j], sharey=axes_top[0] if axes_top else None)
    draw_panel(ax, title, data, q)
    axes_top.append(ax)
axes_top[0].set_ylim(2.5, 13.6)
axes_top[0].set_yticks([5.0, 10.0])
axes_top[0].set_yticklabels(['5.0', '10.0'])
axes_top[0].set_ylabel('Distance from Optimum', fontsize=FS)
axes_top[0].yaxis.set_label_coords(-0.195, 0.5)
for ax in axes_top[1:]:
    ax.tick_params(labelleft=False)

axes_bot = []
for j, (title, data, q) in enumerate(bottom_panels):
    ax = fig.add_subplot(gs_bot[0, j], sharey=axes_bot[0] if axes_bot else None)
    draw_panel(ax, title, data, q)
    axes_bot.append(ax)
axes_bot[0].set_ylim(1.40, 3.34)
axes_bot[0].set_yticks([1.5, 2.0, 2.5, 3.0])
axes_bot[0].set_yticklabels(['1.5', '2.0', '2.5', '3.0'])
axes_bot[0].set_ylabel('Distance from Optimum', fontsize=FS)
axes_bot[0].yaxis.set_label_coords(-0.157, 0.5)
for ax in axes_bot[1:]:
    ax.tick_params(labelleft=False)

handles = [Line2D([0], [0], color=colors[i], lw=4) for i in range(len(methods))]
fig.legend(handles, methods, loc='center', bbox_to_anchor=(0.505, 0.026), ncol=8,
           frameon=False, fontsize=10, handlelength=2.6, columnspacing=1.3, handletextpad=0.5)

plt.savefig('out.png', dpi=100)
